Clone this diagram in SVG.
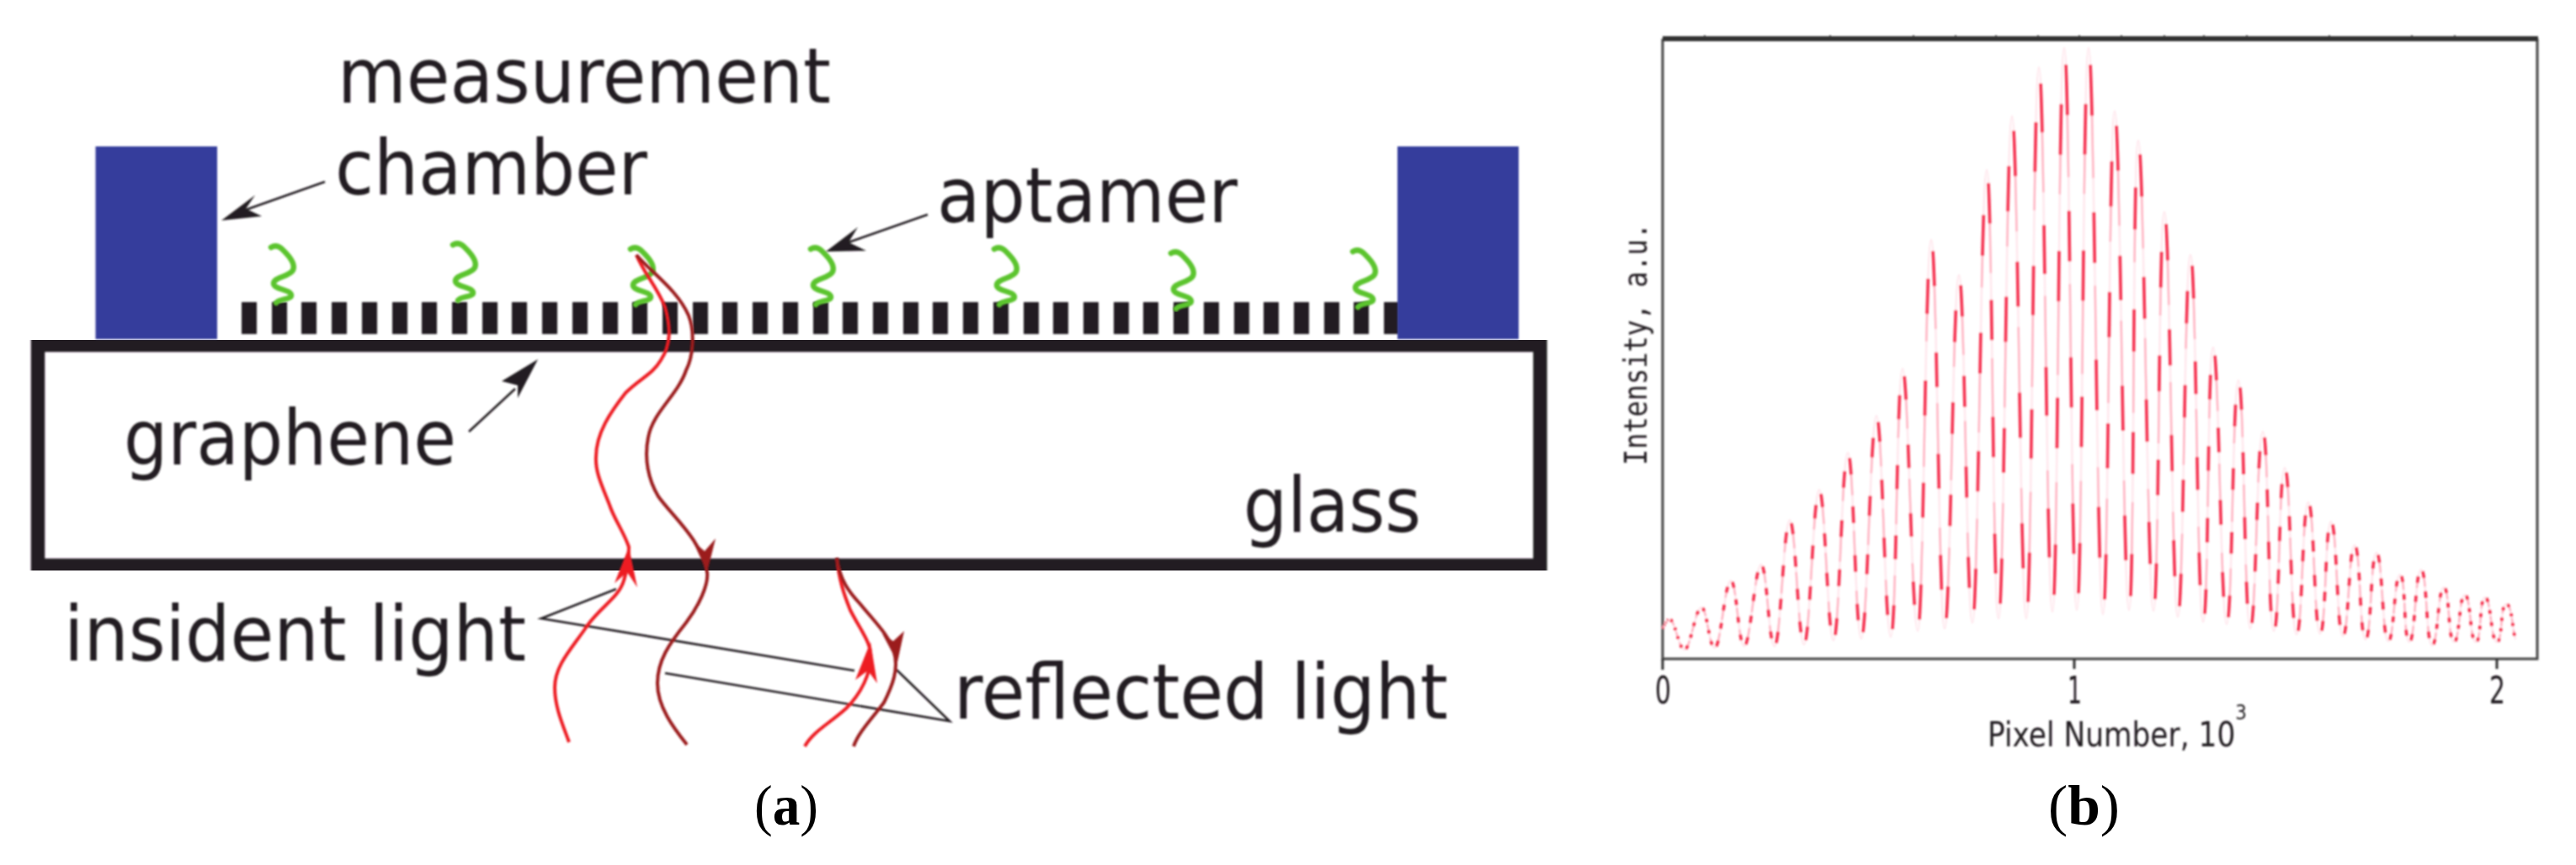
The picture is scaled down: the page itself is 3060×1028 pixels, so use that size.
<svg xmlns="http://www.w3.org/2000/svg" width="3060" height="1028" viewBox="0 0 3060 1028">
<style>
.t{font-family:"DejaVu Sans",sans-serif;fill:#231f20}
.lab{font-size:91px}
.tick{font-size:45px}
.cap{font-family:"Liberation Serif",serif;font-size:68px;fill:#000}
.b{font-weight:bold}
.wall{fill:#363c9c}
.bar{fill:#231f20}
.apt{fill:none;stroke:#5cc42f;stroke-width:6.5;stroke-linecap:round}
.lead{fill:none;stroke:#231f20;stroke-width:2.6}
.red{fill:none;stroke:#ed1c24;stroke-width:4}
.dark{fill:none;stroke:#9b1b1f;stroke-width:4}
.hr{fill:#ed1c24}
.hd{fill:#9b1b1f}
.ha{fill:#231f20}
.ax{fill:none;stroke:#444;stroke-width:3}
.sig{fill:none}
.soft{filter:url(#soft)}
</style>
<defs>
<filter id="soft" x="-2%" y="-2%" width="104%" height="104%"><feGaussianBlur stdDeviation="0.8"/></filter>
<path id="ap" d="M0 1C6 -3 11 0 16 6C23 13 29 21 26 28C22 36 3 36 3 44C3 51 24 51 24 58C24 63 9 62 6 67"/>
<g id="sig">
<path pathLength="100" d="M1975 747C1978 742 1980 736 1983 736"/>
<path pathLength="100" d="M1983 736C1990 736 1994 772 2001 772"/>
<path pathLength="100" d="M2001 772C2008 772 2014 722 2021 722"/>
<path pathLength="100" d="M2021 722C2028 722 2030 770 2037 770"/>
<path pathLength="100" d="M2037 770C2044 770 2049 690 2056 690"/>
<path pathLength="100" d="M2056 690C2063 690 2065 768 2072 768"/>
<path pathLength="100" d="M2072 768C2079 768 2085 671 2092 671"/>
<path pathLength="100" d="M2092 671C2099 671 2101 768 2108 768"/>
<path pathLength="100" d="M2108 768C2115 768 2119 618 2126 618"/>
<path pathLength="100" d="M2126 618C2133 618 2136 766 2143 766"/>
<path pathLength="100" d="M2143 766C2150 766 2154 582 2161 582"/>
<path pathLength="100" d="M2161 582C2168 582 2171 761 2178 761"/>
<path pathLength="100" d="M2178 761C2185 761 2188 538 2195 538"/>
<path pathLength="100" d="M2195 538C2202 538 2204 759 2211 759"/>
<path pathLength="100" d="M2211 759C2218 759 2222 494 2229 494"/>
<path pathLength="100" d="M2229 494C2236 494 2239 757 2246 757"/>
<path pathLength="100" d="M2246 757C2253 757 2253 438 2260 438"/>
<path pathLength="100" d="M2260 438C2267 438 2271 750 2278 750"/>
<path pathLength="100" d="M2278 750C2285 750 2287 285 2294 285"/>
<path pathLength="100" d="M2294 285C2301 285 2303 747 2310 747"/>
<path pathLength="100" d="M2310 747C2317 747 2320 327 2327 327"/>
<path pathLength="100" d="M2327 327C2334 327 2336 740 2343 740"/>
<path pathLength="100" d="M2343 740C2350 740 2353 202 2360 202"/>
<path pathLength="100" d="M2360 202C2367 202 2367 735 2374 735"/>
<path pathLength="100" d="M2374 735C2381 735 2383 138 2390 138"/>
<path pathLength="100" d="M2390 138C2397 138 2400 735 2407 735"/>
<path pathLength="100" d="M2407 735C2414 735 2415 80 2422 80"/>
<path pathLength="100" d="M2422 80C2429 80 2431 727 2438 727"/>
<path pathLength="100" d="M2438 727C2445 727 2445 57 2452 57"/>
<path pathLength="100" d="M2452 57C2459 57 2460 725 2467 725"/>
<path pathLength="100" d="M2467 725C2474 725 2474 57 2481 57"/>
<path pathLength="100" d="M2481 57C2488 57 2491 730 2498 730"/>
<path pathLength="100" d="M2498 730C2505 730 2505 132 2512 132"/>
<path pathLength="100" d="M2512 132C2519 132 2522 725 2529 725"/>
<path pathLength="100" d="M2529 725C2536 725 2533 167 2540 167"/>
<path pathLength="100" d="M2540 167C2547 167 2551 726 2558 726"/>
<path pathLength="100" d="M2558 726C2565 726 2564 252 2571 252"/>
<path pathLength="100" d="M2571 252C2578 252 2580 733 2587 733"/>
<path pathLength="100" d="M2587 733C2594 733 2595 303 2602 303"/>
<path pathLength="100" d="M2602 303C2609 303 2610 739 2617 739"/>
<path pathLength="100" d="M2617 739C2624 739 2622 413 2629 413"/>
<path pathLength="100" d="M2629 413C2636 413 2638 742 2645 742"/>
<path pathLength="100" d="M2645 742C2652 742 2652 452 2659 452"/>
<path pathLength="100" d="M2659 452C2666 452 2666 747 2673 747"/>
<path pathLength="100" d="M2673 747C2680 747 2681 513 2688 513"/>
<path pathLength="100" d="M2688 513C2695 513 2694 750 2701 750"/>
<path pathLength="100" d="M2701 750C2708 750 2707 556 2714 556"/>
<path pathLength="100" d="M2714 556C2721 556 2721 754 2728 754"/>
<path pathLength="100" d="M2728 754C2735 754 2735 597 2742 597"/>
<path pathLength="100" d="M2742 597C2749 597 2749 753 2756 753"/>
<path pathLength="100" d="M2756 753C2763 753 2762 620 2769 620"/>
<path pathLength="100" d="M2769 620C2776 620 2776 756 2783 756"/>
<path pathLength="100" d="M2783 756C2790 756 2790 648 2797 648"/>
<path pathLength="100" d="M2797 648C2804 648 2803 760 2810 760"/>
<path pathLength="100" d="M2810 760C2817 760 2816 657 2823 657"/>
<path pathLength="100" d="M2823 657C2830 657 2830 762 2837 762"/>
<path pathLength="100" d="M2837 762C2844 762 2844 683 2851 683"/>
<path pathLength="100" d="M2851 683C2858 683 2855 763 2862 763"/>
<path pathLength="100" d="M2862 763C2869 763 2869 677 2876 677"/>
<path pathLength="100" d="M2876 677C2883 677 2882 767 2889 767"/>
<path pathLength="100" d="M2889 767C2896 767 2896 698 2903 698"/>
<path pathLength="100" d="M2903 698C2910 698 2908 763 2915 763"/>
<path pathLength="100" d="M2915 763C2922 763 2921 707 2928 707"/>
<path pathLength="100" d="M2928 707C2935 707 2934 763 2941 763"/>
<path pathLength="100" d="M2941 763C2948 763 2945 710 2952 710"/>
<path pathLength="100" d="M2952 710C2959 710 2959 763 2966 763"/>
<path pathLength="100" d="M2966 763C2973 763 2970 718 2977 718"/>
<path pathLength="100" d="M2977 718C2984 718 2984 745 2988 760"/>
</g>
</defs>
<rect width="3060" height="1028" fill="#fff"/>

<g id="graphene" class="soft">
<rect class="bar" x="287" y="359" width="18" height="38"/><rect class="bar" x="323" y="359" width="18" height="38"/><rect class="bar" x="358" y="359" width="18" height="38"/><rect class="bar" x="394" y="359" width="18" height="38"/><rect class="bar" x="430" y="359" width="18" height="38"/><rect class="bar" x="466" y="359" width="18" height="38"/><rect class="bar" x="501" y="359" width="18" height="38"/><rect class="bar" x="537" y="359" width="18" height="38"/><rect class="bar" x="573" y="359" width="18" height="38"/><rect class="bar" x="608" y="359" width="18" height="38"/><rect class="bar" x="644" y="359" width="18" height="38"/><rect class="bar" x="680" y="359" width="18" height="38"/><rect class="bar" x="716" y="359" width="18" height="38"/><rect class="bar" x="751" y="359" width="18" height="38"/><rect class="bar" x="787" y="359" width="18" height="38"/><rect class="bar" x="823" y="359" width="18" height="38"/><rect class="bar" x="858" y="359" width="18" height="38"/><rect class="bar" x="894" y="359" width="18" height="38"/><rect class="bar" x="930" y="359" width="18" height="38"/><rect class="bar" x="966" y="359" width="18" height="38"/><rect class="bar" x="1001" y="359" width="18" height="38"/><rect class="bar" x="1037" y="359" width="18" height="38"/><rect class="bar" x="1073" y="359" width="18" height="38"/><rect class="bar" x="1108" y="359" width="18" height="38"/><rect class="bar" x="1144" y="359" width="18" height="38"/><rect class="bar" x="1180" y="359" width="18" height="38"/><rect class="bar" x="1216" y="359" width="18" height="38"/><rect class="bar" x="1251" y="359" width="18" height="38"/><rect class="bar" x="1287" y="359" width="18" height="38"/><rect class="bar" x="1323" y="359" width="18" height="38"/><rect class="bar" x="1358" y="359" width="18" height="38"/><rect class="bar" x="1394" y="359" width="18" height="38"/><rect class="bar" x="1430" y="359" width="18" height="38"/><rect class="bar" x="1466" y="359" width="18" height="38"/><rect class="bar" x="1501" y="359" width="18" height="38"/><rect class="bar" x="1537" y="359" width="18" height="38"/><rect class="bar" x="1573" y="359" width="18" height="38"/><rect class="bar" x="1608" y="359" width="18" height="38"/><rect class="bar" x="1644" y="359" width="18" height="38"/>
<text class="t lab" x="147" y="552" textLength="395" lengthAdjust="spacingAndGlyphs">graphene</text>
</g>

<g id="glass" class="soft">
<rect x="45" y="410" width="1784.5" height="262" fill="none" stroke="#231f20" stroke-width="16.5"/>
<text class="t lab" x="1477" y="632" textLength="211" lengthAdjust="spacingAndGlyphs">glass</text>
</g>

<g id="chamber" class="soft">
<rect class="wall" x="113.5" y="174" width="144.5" height="229"/>
<rect class="wall" x="1660" y="174" width="144" height="229"/>
<text class="t lab" x="401" y="122" textLength="586" lengthAdjust="spacingAndGlyphs">measurement</text>
<text class="t lab" x="398" y="231" textLength="371" lengthAdjust="spacingAndGlyphs">chamber</text>
</g>

<g id="aptamers" class="soft">
<use href="#ap" class="apt" x="322" y="293"/>
<use href="#ap" class="apt" x="538" y="290"/>
<use href="#ap" class="apt" x="749" y="295"/>
<use href="#ap" class="apt" x="963" y="295"/>
<use href="#ap" class="apt" x="1181" y="295"/>
<use href="#ap" class="apt" x="1391" y="300"/>
<use href="#ap" class="apt" x="1607" y="298"/>
<text class="t lab" x="1113" y="264" textLength="357" lengthAdjust="spacingAndGlyphs">aptamer</text>
</g>

<g id="light-labels" class="soft">
<text class="t lab" x="76" y="785" textLength="549" lengthAdjust="spacingAndGlyphs">insident light</text>
<text class="t lab" x="1133" y="854" textLength="587" lengthAdjust="spacingAndGlyphs">reflected light</text>
</g>

<g id="connectors" class="soft">
<path class="lead" d="M386 216L290 250"/>
<polygon class="ha" points="263,262 303,232 292,248 311,257"/>
<path class="lead" d="M1102 255L1005 289"/>
<polygon class="ha" points="981,299 1019,270 1008,288 1029,298"/>
<path class="lead" d="M557 513L612 462"/>
<polygon class="ha" points="639,427 615,473 615,458 596,453"/>
<path class="lead" d="M732 700L643 735L1015 797"/>
<path class="lead" d="M790 800L1128 857L1065 796"/>
<path class="red" d="M676 882C668 860 659 840 659 817C659 790 680 770 698 743C715 720 735 710 741 690C746 675 747 665 747 650C740 630 730 618 724 600C714 575 707 560 708 543C708 515 725 490 743 467C760 450 775 445 785 428C797 410 797 390 790 365C780 340 765 325 756 303"/>
<path class="dark" d="M756 303C775 325 805 345 818 375C826 395 823 425 815 440C805 470 775 490 770 520C765 545 770 570 782 590C800 615 832 640 840 680C842 695 830 720 815 740C795 765 781 785 781 812C781 840 800 865 816 885"/>
<path class="red" d="M994 663C997 690 1002 705 1010 725C1020 745 1032 760 1034 775C1036 800 1022 825 1005 842C985 860 965 870 956 887"/>
<path class="dark" d="M994 663C998 690 1008 703 1022 718C1040 740 1056 755 1062 775C1068 795 1060 815 1050 835C1035 855 1020 870 1014 887"/>
<polygon class="hr" points="747,650 757,698 745,680 730,693"/>
<polygon class="hd" points="840,680 850,640 837,655 823,643"/>
<polygon class="hr" points="1034,763 1042,812 1031,797 1016,808"/>
<polygon class="hd" points="1066,787 1074,750 1061,762 1048,753"/>
</g>

<g id="plot" class="soft">
<path class="ax" d="M1975 46V783H3014V46"/>
<rect x="1975" y="43" width="1040" height="6" fill="#333"/>
<path d="M2025 42V44M2174 42V44M2273 42V44M2323 42V44M2371 42V44M2421 42V44M2470 42V44M2520 42V44M2571 42V44M2618 42V44M2669 42V44M2767 42V44M2865 42V44M2916 42V44" stroke="#333" stroke-width="2"/>
<path d="M1975 783V796M2464 783V795M2966 783V795" stroke="#333" stroke-width="3"/>
<use href="#sig" class="sig" stroke="#ffe6ec" stroke-width="2.4"/>
<use href="#sig" class="sig" stroke="#ffb4c2" stroke-width="2.4" stroke-dasharray="13 19" stroke-dashoffset="-10"/>
<use href="#sig" class="sig" stroke="#f5304f" stroke-width="3.6" stroke-dasharray="9 17" stroke-dashoffset="-3"/>
<text class="t tick" x="1966" y="836" textLength="19" lengthAdjust="spacingAndGlyphs">0</text>
<text class="t tick" x="2456" y="836" textLength="17" lengthAdjust="spacingAndGlyphs">1</text>
<text class="t tick" x="2957" y="836" textLength="19" lengthAdjust="spacingAndGlyphs">2</text>
<text class="t" font-size="40" x="2361" y="887" textLength="308" lengthAdjust="spacingAndGlyphs">Pixel Number, 10<tspan font-size="25" dy="-32">3</tspan></text>
<text transform="translate(1956 553) rotate(-90)" font-family="'DejaVu Sans Mono',monospace" fill="#231f20" font-size="37" textLength="288" lengthAdjust="spacingAndGlyphs">Intensity, a.u.</text>
</g>

<g id="captions">
<text class="cap" x="896" y="980" textLength="76" lengthAdjust="spacingAndGlyphs">(<tspan class="b">a</tspan>)</text>
<text class="cap" x="2433" y="980" textLength="85" lengthAdjust="spacingAndGlyphs">(<tspan class="b">b</tspan>)</text>
</g>
</svg>
